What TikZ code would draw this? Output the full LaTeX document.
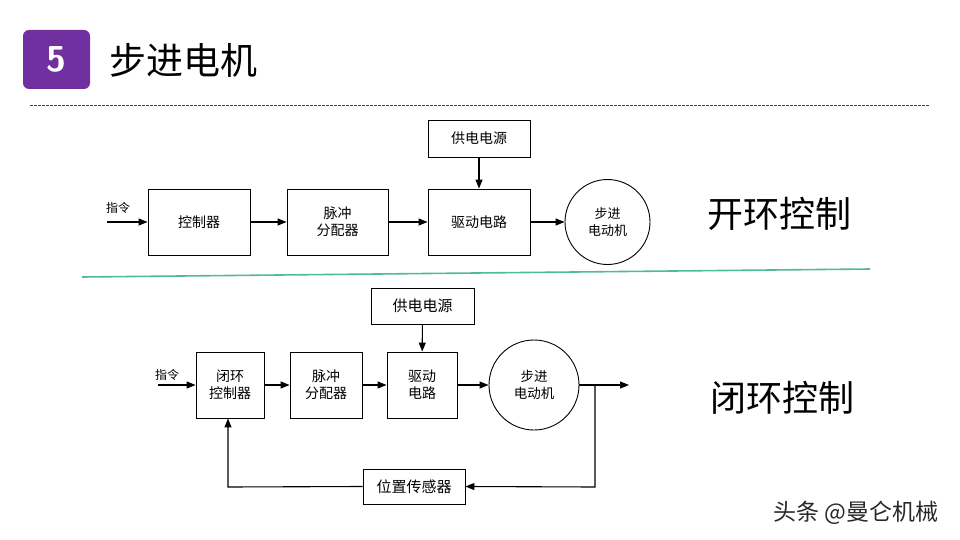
\documentclass[tikz,border=0pt]{standalone}
\usepackage{fontspec}
\newfontfamily\cjk{Noto Sans CJK SC}
\usetikzlibrary{arrows.meta}
\definecolor{titlepurple}{RGB}{112,48,160}
\definecolor{tealline}{RGB}{80,185,160}
\definecolor{wmgray}{RGB}{40,40,40}
\tikzset{
  blk/.style={draw=black, line width=0.9pt, minimum width=#1, inner sep=0pt, font=\cjk\fontsize{14}{17}\selectfont, align=center},
  motor/.style={draw=black, line width=0.9pt, circle, inner sep=0pt, font=\cjk\fontsize{13.5}{17}\selectfont, align=center},
  flow/.style={line width=1.1pt, -{Triangle[length=9pt,width=7pt]}},
  lbl/.style={font=\cjk\fontsize{12}{14}\selectfont, inner sep=0pt},
  bigtxt/.style={font=\cjk\fontsize{36}{40}\selectfont, inner sep=0pt}
}
\begin{document}
\begin{tikzpicture}[x=1pt,y=-1pt]
\useasboundingbox (0,0) rectangle (960,540);
\fill[white] (0,0) rectangle (960,540);
% title
\node[fill=titlepurple, rounded corners=6pt, minimum width=67pt, minimum height=59pt, inner sep=0pt] (badge) at (56.5,59.5) {};
\node[font=\sffamily\bfseries\fontsize{36}{40}\selectfont, text=white] (five) at (badge.center) {5};
\node[font=\cjk\fontsize{37}{40}\selectfont, anchor=west, inner sep=0pt] (title) at (109,60) {步进电机};
\draw[black!75, line width=0.6pt, dash pattern=on 2.5pt off 1.5pt] (30,105) coordinate (d1) -- (929,105) coordinate (d2);
% open loop
\node[blk=102pt, minimum height=66pt] (ctl) at (199,222) {控制器};
\node[blk=101pt, minimum height=66pt] (pul) at (337.5,222) {脉冲\\分配器};
\node[blk=102pt, minimum height=66pt] (drv) at (479,222) {驱动电路};
\node[blk=102pt, minimum height=37pt] (pwr) at (479,138.5) {供电电源};
\node[motor, minimum size=85pt, font=\cjk\fontsize{13}{17}\selectfont] (mot) at (607.5,222) {步进\\电动机};
\node[lbl, anchor=south west] (cmd1) at (106,214) {指令};
\coordinate (in1) at (107,222);
\draw[flow] (in1) -- (ctl.west);
\draw[flow] (ctl) -- (pul);
\draw[flow] (pul) -- (drv);
\draw[flow] (drv) -- (mot);
\draw[flow] (pwr) -- (drv);
\node[bigtxt] (open) at (779,214) {开环控制};
\draw[tealline, line width=1.6pt] (82,277) coordinate (t1) -- (870,269) coordinate (t2);
% closed loop
\node[blk=68pt, minimum height=66pt] (cctl) at (230,385) {闭环\\控制器};
\node[blk=72pt, minimum height=66pt] (cpul) at (326,385) {脉冲\\分配器};
\node[blk=70pt, minimum height=66pt] (cdrv) at (422,385) {驱动\\电路};
\node[blk=103pt, minimum height=36pt, font=\cjk\fontsize{15}{18}\selectfont] (cpwr) at (422.5,306) {供电电源};
\node[motor, minimum size=90pt] (cmot) at (534,385) {步进\\电动机};
\node[blk=102pt, minimum height=35pt, font=\cjk\fontsize{15}{18}\selectfont] (sens) at (414,486.5) {位置传感器};
\node[lbl, anchor=south west] (cmd2) at (155,381) {指令};
\coordinate (in2) at (158,385);
\coordinate (br) at (595,385);
\coordinate (out) at (629,385);
\coordinate (br2) at (595,487);
\coordinate (fb) at (228,487);
\draw[flow] (in2) -- (cctl.west);
\draw[flow] (cctl) -- (cpul);
\draw[flow] (cpul) -- (cdrv);
\draw[flow] (cdrv) -- (cmot);
\draw[flow] (cpwr) -- (cdrv);
\draw[flow] (cmot.east) -- (out);
\draw[flow] (br) -- (br2) -- (sens.east);
\draw[flow] (sens.west) -- (fb) -- (cctl.south -| fb);
\node[bigtxt] (closed) at (782,398) {闭环控制};
\node[font=\cjk\fontsize{23}{26}\selectfont, text=wmgray, inner sep=0pt] (wm) at (856,513) {头条 @曼仑机械};
\end{tikzpicture}
\end{document}
